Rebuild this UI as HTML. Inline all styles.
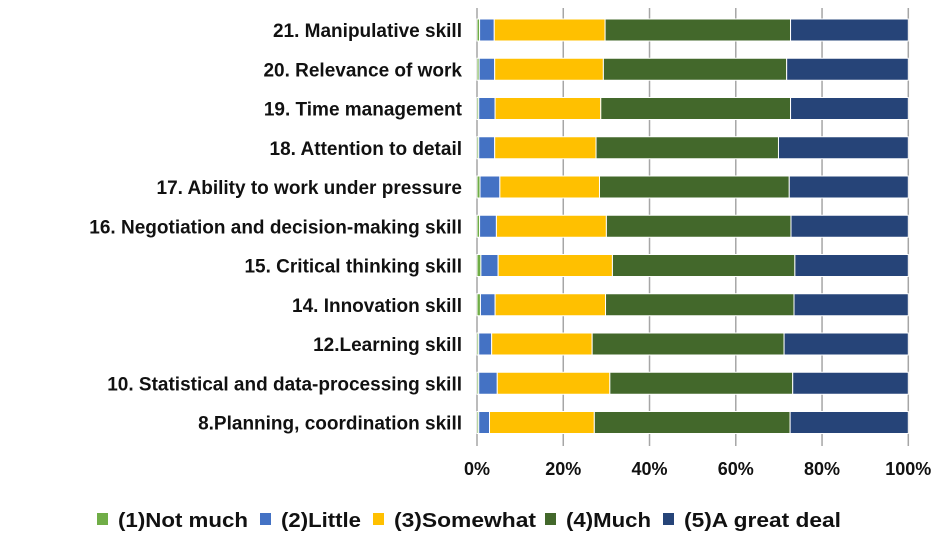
<!DOCTYPE html>
<html><head><meta charset="utf-8"><style>
body{margin:0;background:#fff;}
svg text{font-family:"Liberation Sans",Arial,sans-serif;font-weight:bold;fill:#111;}
</style></head><body>
<svg id="c" width="945" height="544"></svg>
<script>
const categories=["21. Manipulative skill","20. Relevance of work","19. Time management","18. Attention to detail","17. Ability to work under pressure","16. Negotiation and decision-making skill","15. Critical thinking skill","14. Innovation skill","12.Learning skill","10. Statistical and data-processing skill","8.Planning, coordination skill"];
const notMuch=[0.6,0.5,0.4,0.4,0.7,0.6,0.9,0.8,0.4,0.4,0.4];
const little=[3.4,3.6,3.8,3.7,4.6,3.9,4.0,3.4,3.0,4.3,2.5];
const somewhat=[25.7,25.2,24.5,23.5,23.1,25.5,26.5,25.6,23.3,26.1,24.3];
const much=[43.0,42.5,44.0,42.3,44.0,42.8,42.3,43.7,44.5,42.4,45.4];
const greatDeal=[27.3,28.2,27.3,30.1,27.6,27.2,26.3,26.5,28.8,26.8,27.4];
const series=[notMuch,little,somewhat,much,greatDeal];
const seriesNames=["(1)Not much","(2)Little","(3)Somewhat","(4)Much","(5)A great deal"];
const colors=["#70ad47","#4472c4","#ffc000","#43682b","#264478"];
const ticks=[0,20,40,60,80,100];
const tickLabels=["0%","20%","40%","60%","80%","100%"];
const svg=document.getElementById('c');const NS="http://www.w3.org/2000/svg";
function mk(t,a,p){const e=document.createElementNS(NS,t);for(const k in a)e.setAttribute(k,a[k]);(p||svg).appendChild(e);return e;}
const x0=477,x1=908.3;const xs=v=>x0+(x1-x0)*v/100;
const yc=i=>30+i*39.25;const bh=22;
ticks.forEach((t,i)=>{const l=mk('line',{x1:xs(t),x2:xs(t),y1:8,y2:446,stroke:'#a6a6a6','stroke-width':1.5});


const tx=mk('text',{x:xs(t),y:475,'text-anchor':'middle','font-size':18});tx.textContent=tickLabels[i];

});
categories.forEach((c,i)=>{const t=mk('text',{x:462,y:yc(i)+7,'text-anchor':'end','font-size':19});t.textContent=c;


let acc=0;series.forEach((s,j)=>{const r=mk('rect',{x:xs(acc),y:yc(i)-bh/2,width:Math.max(0,xs(acc+s[i])-xs(acc)),height:bh,fill:colors[j],stroke:'#fff','stroke-width':1});


acc+=s[i];});});
const lx=[97,260,373,545,663];
const lw=[130,80,142,85,157];
seriesNames.forEach((n,j)=>{const r=mk('rect',{x:lx[j],y:513,width:11,height:12,fill:colors[j]});


const t=mk('text',{x:lx[j]+21,y:527,'font-size':20,textLength:lw[j],lengthAdjust:'spacingAndGlyphs'});t.textContent=n;

});
</script>
</body></html>
